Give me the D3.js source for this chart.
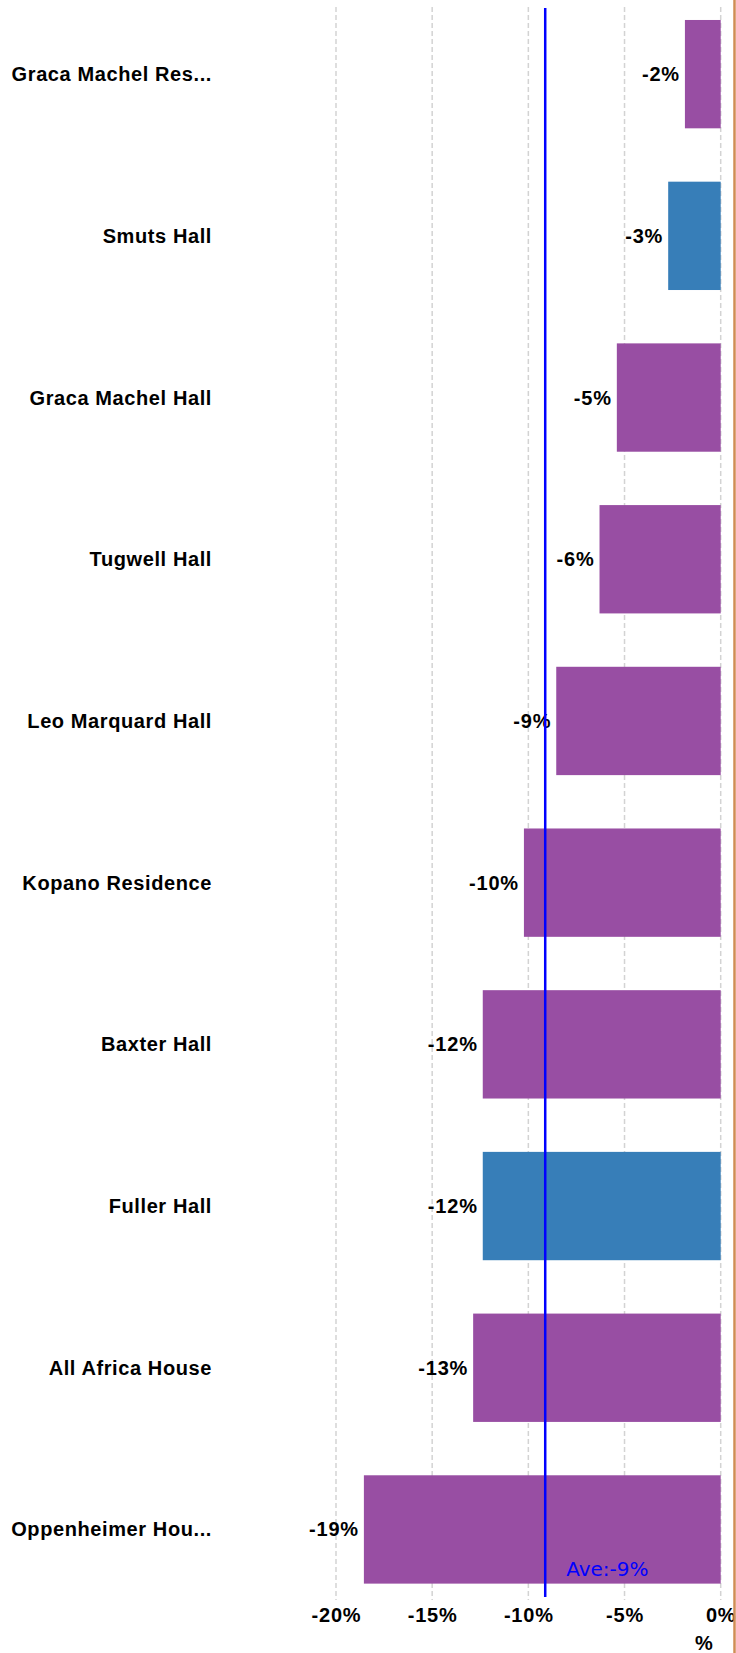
<!DOCTYPE html>
<html>
<head>
<meta charset="utf-8">
<script src="https://cdn.jsdelivr.net/npm/d3@7"></script>
<style>
  body { margin: 0; background: #fff; }
  svg { display: block; }
</style>
</head>
<body>
<div id="chart"></div>
<script>
// chart data
const categories = ['Graca Machel Res...', 'Smuts Hall', 'Graca Machel Hall', 'Tugwell Hall',
    'Leo Marquard Hall', 'Kopano Residence', 'Baxter Hall', 'Fuller Hall',
    'All Africa House', 'Oppenheimer Hou...'];
const values = [-1.86, -2.73, -5.40, -6.30, -8.55, -10.23, -12.37, -12.37, -12.87, -18.55];
const groups = ['other', 'highlight', 'other', 'other', 'other', 'other', 'other', 'highlight', 'other', 'other'];
const xTicks = [-20, -15, -10, -5, 0];

function drawChart() {
    let width = 736;
    let height = 1653;
    let font = 'Liberation Sans, Arial, sans-serif';

    const svg = d3.select('#chart')
    .append('svg')
    .attr('width', width)
    .attr('height', height)

    let x = d3.scaleLinear().domain([-20, 0]).range([336, 720.7]);
    let y = d3.scaleBand().domain(categories).range([-6.7, 1610.3])
        .paddingInner(0.33).paddingOuter(0.165);
    let color = d3.scaleOrdinal().domain(['other', 'highlight']).range(['#984ea3', '#377eb8']);

    // dashed grid
    svg.append('g')
    .selectAll('line')
    .data(xTicks)
    .enter()
    .append('line')
    .attr('x1', d => x(d))
    .attr('x2', d => x(d))
    .attr('y1', 7)
    .attr('y2', 1600)
    .attr('stroke', '#d3d3d3')
    .attr('stroke-width', 1.5)
    .attr('stroke-dasharray', '5,3')

    let rows = categories.map((c, i) => ({ name: c, value: values[i], group: groups[i] }));

    svg.append('g')
    .selectAll('rect')
    .data(rows)
    .enter()
    .append('rect')
    .attr('x', d => x(d.value))
    .attr('y', d => y(d.name))
    .attr('width', d => x(0) - x(d.value))
    .attr('height', y.bandwidth())
    .attr('fill', d => color(d.group))

    // value labels
    svg.append('g')
    .selectAll('text')
    .data(rows)
    .enter()
    .append('text')
    .attr('x', d => x(d.value) - 5)
    .attr('y', d => y(d.name) + y.bandwidth() / 2)
    .attr('dy', '0.35em')
    .attr('text-anchor', 'end')
    .attr('font-family', font)
    .attr('font-weight', 'bold')
    .attr('font-size', 20)
    .attr('letter-spacing', 0.8)
    .attr('fill', '#000')
    .text(d => Math.round(d.value) + '%')

    // category labels
    svg.append('g')
    .selectAll('text')
    .data(rows)
    .enter()
    .append('text')
    .attr('x', 212)
    .attr('y', d => y(d.name) + y.bandwidth() / 2)
    .attr('dy', '0.35em')
    .attr('text-anchor', 'end')
    .attr('font-family', font)
    .attr('font-weight', 'bold')
    .attr('font-size', 20)
    .attr('letter-spacing', 0.6)
    .attr('fill', '#000')
    .text(d => d.name)

    // x axis
    let axis = svg.append('g')
    .attr('transform', 'translate(0,1600)')
    .call(d3.axisBottom(x).tickValues(xTicks).tickSize(0).tickPadding(8).tickFormat(d => d + '%'))
    axis.select('.domain').remove();
    axis.selectAll('text')
    .attr('font-family', font)
    .attr('font-weight', 'bold')
    .attr('font-size', 20)
    .attr('letter-spacing', 0.8)
    .attr('fill', '#000')

    svg.append('text')
    .attr('x', 704)
    .attr('y', 1650)
    .attr('text-anchor', 'middle')
    .attr('font-family', font)
    .attr('font-weight', 'bold')
    .attr('font-size', 20)
    .text('%')

    // average line
    let ave = d3.mean(values);
    svg.append('line')
    .attr('x1', x(ave))
    .attr('x2', x(ave))
    .attr('y1', 8)
    .attr('y2', 1597)
    .attr('stroke', '#0000ff')
    .attr('stroke-width', 2.5)

    svg.append('text')
    .attr('x', x(ave) + 21)
    .attr('y', 1576)
    .attr('font-family', 'DejaVu Sans, Verdana, sans-serif')
    .attr('font-size', 20)
    .attr('fill', '#0000ff')
    .text('Ave:' + Math.round(ave) + '%')

    // right border
    svg.append('line')
    .attr('x1', 734.5)
    .attr('x2', 734.5)
    .attr('y1', 0)
    .attr('y2', height)
    .attr('stroke', '#d08c55')
    .attr('stroke-width', 2.5)
}

drawChart();
</script>
</body>
</html>
